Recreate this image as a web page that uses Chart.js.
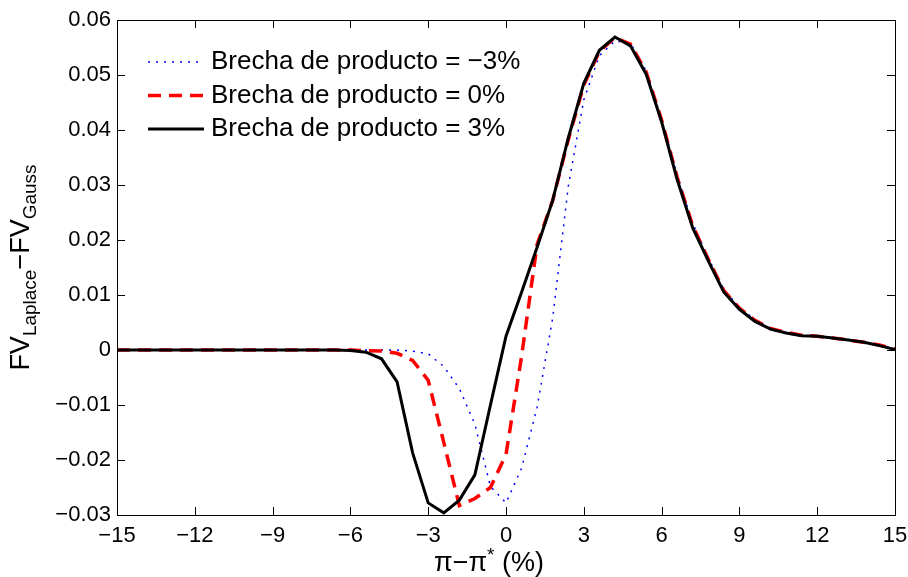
<!DOCTYPE html>
<html>
<head>
<meta charset="utf-8">
<script src="https://cdn.jsdelivr.net/npm/chart.js@4/dist/chart.umd.min.js"></script>
<style>
  html, body { margin: 0; padding: 0; background: #fff; }
  canvas { display: block; }
</style>
</head>
<body>
<canvas id="fvChart" width="908" height="577"></canvas>
<script>
// x grid (inflation gap, %)
var xValues = [-15, -14.4, -13.8, -13.2, -12.6, -12, -11.4, -10.8, -10.2, -9.6,
    -9, -8.4, -7.8, -7.2, -6.6, -6, -5.4, -4.8, -4.2, -3.6,
    -3, -2.4, -1.8, -1.2, -0.6, 0, 0.6, 1.2, 1.8, 2.4,
    3, 3.6, 4.2, 4.8, 5.4, 6, 6.6, 7.2, 7.8, 8.4,
    9, 9.6, 10.2, 10.8, 11.4, 12, 12.6, 13.2, 13.8, 14.4, 15]

// output gap = -3%
var gapMinus3 = [0, 0, 0, 0, 0, 0, 0, 0, 0, 0,
    0, 0, 0, 0, 0, 0, 0, 0, 0, -0.0002,
    -0.0007, -0.0030, -0.0070, -0.0135, -0.0248, -0.0278, -0.0215, -0.0104, 0.0058, 0.0297,
    0.0455, 0.0535, 0.0562, 0.0558, 0.0508, 0.0420, 0.0318, 0.0230, 0.0168, 0.0110,
    0.0078, 0.0055, 0.0040, 0.0032, 0.0027, 0.0025, 0.0022, 0.0018, 0.0014, 0.0009, 0.0002]

// output gap = 0%
var gapZero = [0, 0, 0, 0, 0, 0, 0, 0, 0, 0,
    0, 0, 0, 0, 0, 0, -0.0001, -0.0002, -0.0006, -0.0019,
    -0.0055, -0.0168, -0.0283, -0.0270, -0.0250, -0.0190, -0.0012, 0.0192, 0.0272, 0.0382,
    0.0482, 0.0543, 0.0568, 0.0556, 0.0506, 0.0418, 0.0314, 0.0226, 0.0165, 0.0108,
    0.0076, 0.0054, 0.0039, 0.0032, 0.0027, 0.0025, 0.0022, 0.0018, 0.0014, 0.0009, 0.0002]

// output gap = 3%
var gapPlus3 = [0, 0, 0, 0, 0, 0, 0, 0, 0, 0,
    0, 0, 0, 0, 0, -0.0001, -0.0004, -0.0016, -0.0058, -0.0187,
    -0.0278, -0.0296, -0.0273, -0.0227, -0.0100, 0.0025, 0.0105, 0.0187, 0.0272, 0.0385,
    0.0485, 0.0545, 0.0569, 0.0553, 0.0502, 0.0415, 0.0310, 0.0222, 0.0162, 0.0105,
    0.0074, 0.0052, 0.0038, 0.0031, 0.0026, 0.0025, 0.0022, 0.0018, 0.0014, 0.0008, 0.0001]

var seriesLabels = ['Brecha de producto = \u22123%', 'Brecha de producto = 0%', 'Brecha de producto = 3%']
var xTicks = [-15, -12, -9, -6, -3, 0, 3, 6, 9, 12, 15]
var yTicks = [-0.03, -0.02, -0.01, 0, 0.01, 0.02, 0.03, 0.04, 0.05, 0.06]

var FONT = '"Liberation Sans", Arial, sans-serif'

function toPoints(ys) {
    return xValues.map(function(x, i) { return { x: x, y: ys[i] } })
}
function minusSign(s) { return String(s).replace('-', '\u2212') }

// frame, inward ticks, legend and axis titles drawn MATLAB style
var matlabDecor = {
    id: 'matlabDecor',
    afterDraw: function(chart) {
        var ctx = chart.ctx, a = chart.chartArea
        var xs = chart.scales.x, ys = chart.scales.y
        var tl = 8
        ctx.save()
        ctx.strokeStyle = '#000'
        ctx.lineWidth = 1
        ctx.setLineDash([])
        ctx.beginPath()
        xTicks.forEach(function(v) {
            var px = Math.round(xs.getPixelForValue(v)) + 0.5
            ctx.moveTo(px, a.bottom); ctx.lineTo(px, a.bottom - tl)
            ctx.moveTo(px, a.top); ctx.lineTo(px, a.top + tl)
        })
        yTicks.forEach(function(v) {
            var py = Math.round(ys.getPixelForValue(v)) + 0.5
            ctx.moveTo(a.left, py); ctx.lineTo(a.left + tl, py)
            ctx.moveTo(a.right, py); ctx.lineTo(a.right - tl, py)
        })
        ctx.stroke()
        ctx.strokeRect(Math.round(a.left) + 0.5, Math.round(a.top) + 0.5,
            Math.round(a.right - a.left), Math.round(a.bottom - a.top))

        // legend
        ctx.font = '26px ' + FONT
        ctx.textBaseline = 'middle'
        ctx.textAlign = 'left'
        chart.data.datasets.forEach(function(ds, i) {
            var y = 62 + i * 33.5
            ctx.beginPath()
            ctx.strokeStyle = ds.borderColor
            ctx.lineWidth = ds.borderWidth
            ctx.setLineDash(ds.borderDash || [])
            ctx.moveTo(148, y); ctx.lineTo(204, y)
            ctx.stroke()
            ctx.fillStyle = '#000'
            ctx.fillText(ds.label, 211, y)
        })
        ctx.setLineDash([])

        // x title
        ctx.fillStyle = '#000'
        ctx.textBaseline = 'alphabetic'
        var big = '27px ' + FONT, small = '19px ' + FONT
        ctx.font = big
        var w1 = ctx.measureText('\u03c0\u2212\u03c0').width
        var w3 = ctx.measureText(' (%)').width
        ctx.font = small
        var w2 = ctx.measureText('*').width
        var x0 = 489 - (w1 + w2 + w3) / 2
        var by = 571
        ctx.font = big
        ctx.fillText('\u03c0\u2212\u03c0', x0, by)
        ctx.font = small
        ctx.fillText('*', x0 + w1, by - 10)
        ctx.font = big
        ctx.fillText(' (%)', x0 + w1 + w2, by)

        // y title
        ctx.save()
        ctx.translate(29, (a.top + a.bottom) / 2)
        ctx.rotate(-Math.PI / 2)
        var parts = [['FV', big, 0], ['Laplace', small, 7], ['\u2212FV', big, 0], ['Gauss', small, 7]]
        var total = 0
        parts.forEach(function(p) { ctx.font = p[1]; total += ctx.measureText(p[0]).width })
        var cx = -total / 2
        parts.forEach(function(p) {
            ctx.font = p[1]
            ctx.fillText(p[0], cx, p[2])
            cx += ctx.measureText(p[0]).width
        })
        ctx.restore()
        ctx.restore()
    }
}

new Chart(document.getElementById('fvChart').getContext('2d'), {
    type: 'line',
    data: {
        datasets: [{
            label: seriesLabels[0],
            data: toPoints(gapMinus3),
            borderColor: '#0000ff',
            borderWidth: 1.5,
            borderDash: [2, 6],
            order: 3
        }, {
            label: seriesLabels[1],
            data: toPoints(gapZero),
            borderColor: '#ff0000',
            borderWidth: 3.5,
            borderDash: [13, 8],
            order: 2
        }, {
            label: seriesLabels[2],
            data: toPoints(gapPlus3),
            borderColor: '#000000',
            borderWidth: 3,
            order: 1
        }]
    },
    options: {
        responsive: false,
        animation: false,
        events: [],
        layout: { padding: { top: 20, right: 13, left: 0, bottom: 0 } },
        elements: {
            point: { radius: 0 },
            line: { tension: 0, fill: false, borderCapStyle: 'butt' }
        },
        plugins: {
            legend: { display: false },
            tooltip: { enabled: false }
        },
        scales: {
            x: {
                type: 'linear',
                min: -15,
                max: 15,
                afterFit: function(s) {
                    s.height = 62
                    s.paddingLeft = 0
                    s.paddingRight = 0
                },
                afterBuildTicks: function(s) { s.ticks = xTicks.map(function(v) { return { value: v } }) },
                grid: { display: false, drawTicks: false },
                border: { display: false },
                ticks: {
                    padding: 8,
                    color: '#000',
                    font: { family: FONT, size: 22 },
                    maxRotation: 0,
                    callback: function(v) { return minusSign(v) }
                }
            },
            y: {
                min: -0.03,
                max: 0.06,
                afterFit: function(s) {
                    s.width = 117
                    s.paddingTop = 0
                    s.paddingBottom = 0
                },
                afterBuildTicks: function(s) { s.ticks = yTicks.map(function(v) { return { value: v } }) },
                grid: { display: false, drawTicks: false },
                border: { display: false },
                ticks: {
                    padding: 6,
                    color: '#000',
                    font: { family: FONT, size: 22 },
                    callback: function(v) { return v === 0 ? '0' : minusSign(v.toFixed(2)) }
                }
            }
        }
    },
    plugins: [matlabDecor]
})
</script>
</body>
</html>
